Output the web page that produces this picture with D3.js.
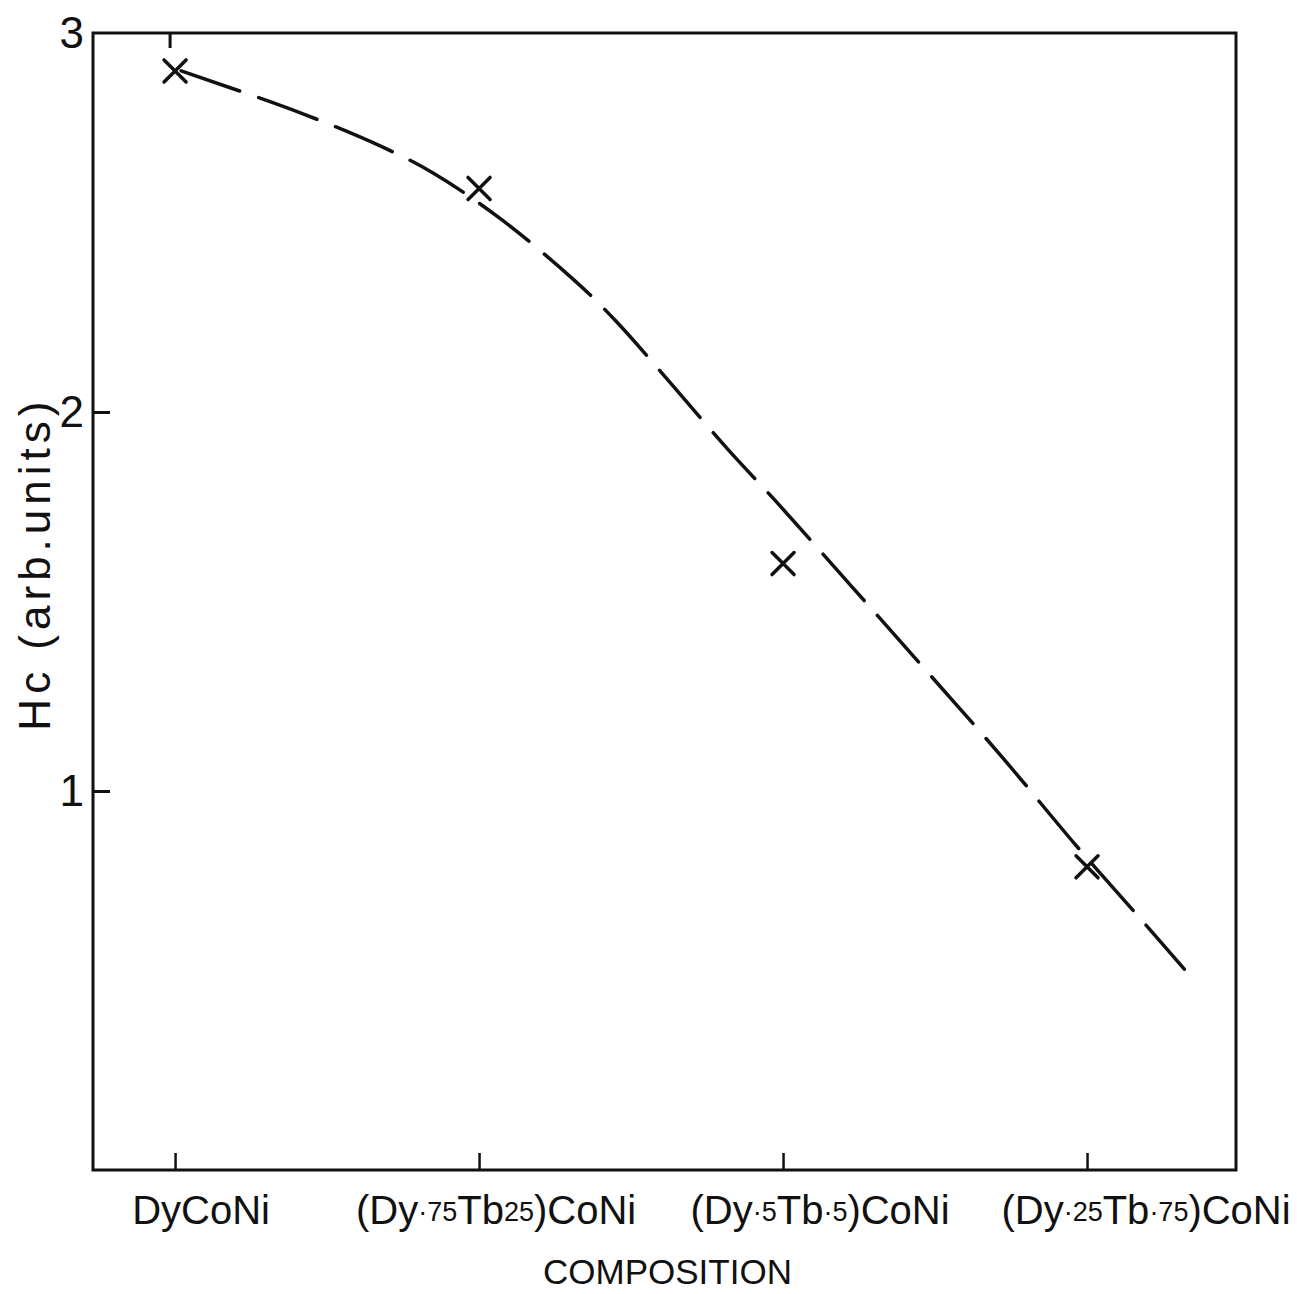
<!DOCTYPE html>
<html>
<head>
<meta charset="utf-8">
<script src="https://cdn.jsdelivr.net/npm/d3@7"></script>
<style>
  body { margin: 0; background: #fff; }
  svg { display: block; }
  text { font-family: "Liberation Sans", Arial, sans-serif; fill: #111; }
</style>
</head>
<body>
<div id="chart"></div>
<script>
/* Data */
// compositions along the x axis (parts: [text, small?])
const compositions = [
  [["DyCoNi", false]],
  [["(Dy", false], ["·75", true], ["Tb", false], ["25", true], [")CoNi", false]],
  [["(Dy", false], ["·5", true], ["Tb", false], ["·5", true], [")CoNi", false]],
  [["(Dy", false], ["·25", true], ["Tb", false], ["·75", true], [")CoNi", false]]
];
// measured Hc at each composition (x markers)
const hcValues = [2.90, 2.59, 1.60, 0.80];
// hand-drawn dashed trend line, read as points (x in composition steps)
const curveX = [0.02, 0.41, 0.68, 0.85, 1.07, 1.31, 1.45, 1.82, 1.97, 2.17, 2.38, 2.72, 2.96, 3.19, 3.32];
const curveY = [2.90, 2.79, 2.70, 2.63, 2.51, 2.35, 2.24, 1.90, 1.77, 1.59, 1.40, 1.09, 0.86, 0.65, 0.53];
const yTicks = [1, 2, 3];

/* Layout */
const width = 1297, height = 1294;
const labelShift = [26, 17, 37, 59];  // tick labels sit a bit right of their ticks

const svg = d3.select("#chart")
  .append("svg")
  .attr("width", width)
  .attr("height", height);

const xScale = d3.scaleLinear()
  .domain([-0.27, 3.49])
  .range([93, 1236]);

const yScale = d3.scaleLinear()
  .domain([0, 3])
  .range([1170, 33]);

/* Frame */
svg.append("rect")
  .attr("x", xScale(-0.27))
  .attr("y", yScale(3))
  .attr("width", xScale(3.49) - xScale(-0.27))
  .attr("height", yScale(0) - yScale(3))
  .attr("fill", "none")
  .attr("stroke", "#111")
  .attr("stroke-width", 3);

/* Y axis: ticks pointing inward */
const yGroup = svg.append("g")
  .attr("transform", `translate(${xScale(-0.27)},0)`)
  .call(d3.axisLeft(yScale).tickValues(yTicks).tickSize(-17).tickPadding(9).tickFormat(d3.format("d")))
  .call(g => g.select(".domain").remove());
yGroup.selectAll("line").attr("stroke", "#111").attr("stroke-width", 3);
yGroup.selectAll("line").filter(d => d === 3).remove();
yGroup.selectAll("text")
  .style("font-size", "44px")
  .style("font-family", "'Liberation Sans', Arial, sans-serif")
  .attr("fill", "#111");

/* X axis: ticks pointing inward from the bottom */
const xGroup = svg.append("g")
  .attr("transform", `translate(0,${yScale(0)})`)
  .call(d3.axisBottom(xScale).tickValues(d3.range(compositions.length)).tickSize(-17).tickFormat(""))
  .call(g => g.select(".domain").remove());
xGroup.selectAll("line").attr("stroke", "#111").attr("stroke-width", 2.5);

// one tick on the top edge at DyCoNi
svg.append("line")
  .attr("x1", xScale(0) - 5).attr("x2", xScale(0) - 5)
  .attr("y1", yScale(3)).attr("y2", yScale(3) + 15)
  .attr("stroke", "#111")
  .attr("stroke-width", 3);

/* Composition labels */
const labels = svg.append("g")
  .selectAll("text")
  .data(compositions)
  .join("text")
    .attr("x", (d, i) => xScale(i) + labelShift[i])
    .attr("y", yScale(0) + 54)
    .attr("text-anchor", "middle")
    .style("font-size", "40px");

labels.selectAll("tspan")
  .data(d => d)
  .join("tspan")
    .style("font-size", d => d[1] ? "27px" : "40px")
    .attr("dy", d => d[1] ? -3 : null)
    .text(d => d[0]);
// reset the small-part baseline shift after each small piece
labels.each(function() {
  const spans = d3.select(this).selectAll("tspan").nodes();
  spans.forEach((s, k) => {
    const small = d3.select(s).datum()[1];
    const prevSmall = k > 0 && d3.select(spans[k - 1]).datum()[1];
    if (!small && prevSmall) d3.select(s).attr("dy", 3);
  });
});

/* Axis titles */
svg.append("text")
  .attr("x", (xScale(-0.27) + xScale(3.49)) / 2 + 3)
  .attr("y", 1284)
  .attr("text-anchor", "middle")
  .style("font-size", "35px")
  .text("COMPOSITION");

svg.append("text")
  .attr("transform", `translate(50,${yScale(1.6)}) rotate(-90)`)
  .attr("text-anchor", "middle")
  .style("font-size", "44px")
  .style("letter-spacing", "5px")
  .text("Hc (arb.units)");

/* Dashed trend line */
const curve = d3.zip(curveX, curveY);
const line = d3.line()
  .curve(d3.curveCatmullRom)
  .x(d => xScale(d[0]))
  .y(d => yScale(d[1]));

svg.append("path")
  .datum(curve)
  .attr("d", line)
  .attr("fill", "none")
  .attr("stroke", "#111")
  .attr("stroke-width", 3.5)
  .attr("stroke-linecap", "round")
  .attr("stroke-dasharray", "62,20");

/* x markers */
const r = 11;
svg.append("g")
  .selectAll("path")
  .data(hcValues)
  .join("path")
    .attr("transform", (d, i) => `translate(${xScale(i)},${yScale(d)})`)
    .attr("d", `M${-r},${-r}L${r},${r}M${-r},${r}L${r},${-r}`)
    .attr("stroke", "#111")
    .attr("stroke-width", 3.5)
    .attr("stroke-linecap", "round");
</script>
</body>
</html>
